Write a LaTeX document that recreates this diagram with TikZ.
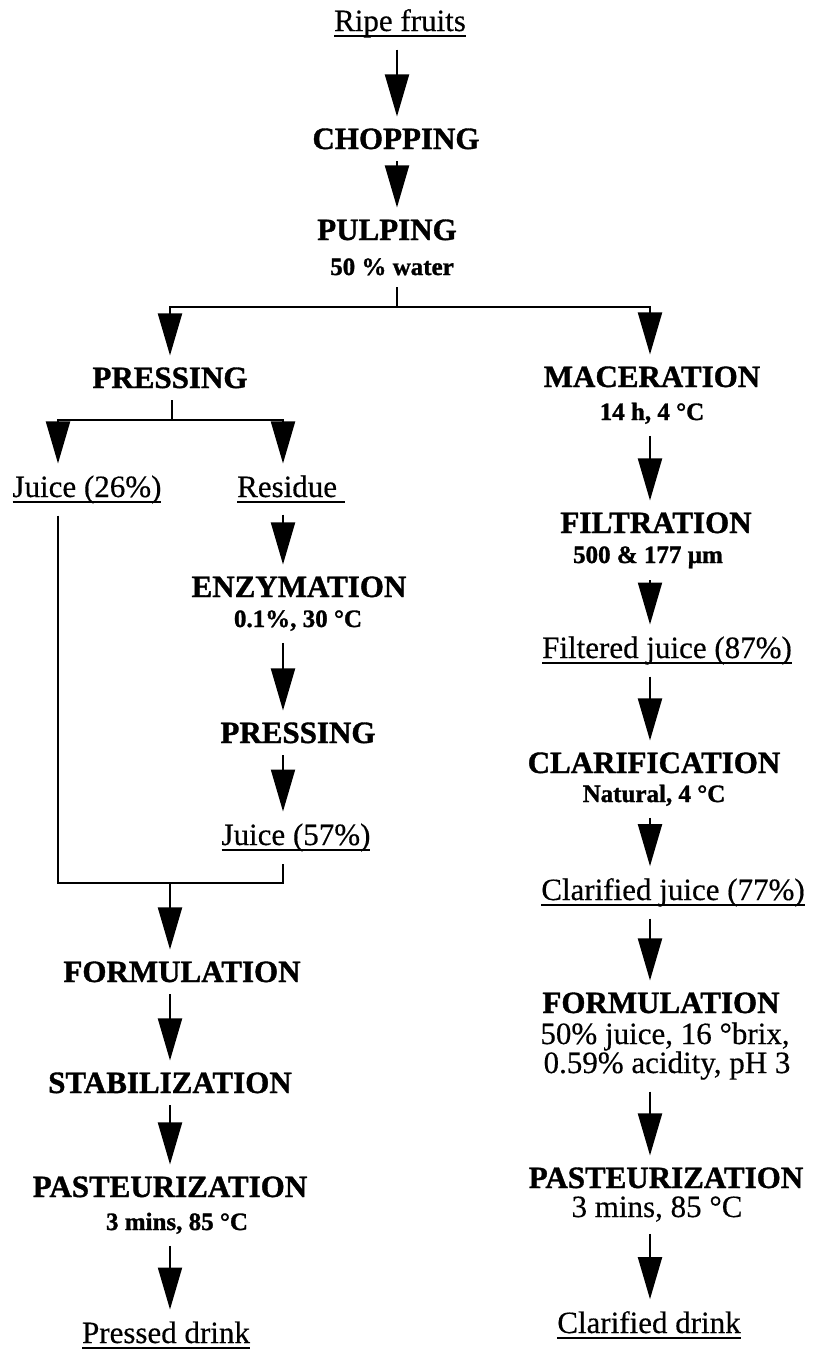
\documentclass[tikz,border=0pt]{standalone}
\usepackage{fontspec}
\setmainfont{Liberation Serif}[UprightFeatures={FakeBold=0.4}, BoldFeatures={FakeBold=1.2}]
\usetikzlibrary{arrows.meta}

% underlined product label: rule set just below the baseline
\newcommand\ulbox[1]{\setbox0\hbox{#1}\rlap{\rule[-5.5pt]{\wd0}{2pt}}\box0}

\begin{document}
\begin{tikzpicture}[x=1pt,y=-1pt,
  every node/.style={inner sep=0pt, outer xsep=0pt, outer ysep=12pt, anchor=base},
  stage/.style={font=\fontsize{31}{36}\selectfont\bfseries},
  item/.style={font=\fontsize{31}{36}\selectfont},
  detail/.style={font=\fontsize{25}{30}\selectfont\bfseries},
  flow/.style={line width=2pt, -{Triangle[length=42pt,width=24pt]}},
  link/.style={line width=2pt},
]
\useasboundingbox (0,0) rectangle (812,1353);

% column axes and branch points
\coordinate (colT) at (397,0);
\coordinate (colL) at (170,0);
\coordinate (colJ) at (58,0);
\coordinate (colM) at (283,0);
\coordinate (colR) at (650,0);
\coordinate (split1) at (397,307);
\coordinate (split2) at (172,420);
\coordinate (merge) at (170,883);

% common trunk
\node[item]   (ripe)  at (400,31)  {\ulbox{Ripe fruits}};
\node[stage]  (chop)  at (396,149) {CHOPPING};
\node[stage]  (pulp)  at (387,240) {PULPING};
\node[detail] (water) at (392,275) {50 \% water};

% pressed branch
\node[stage]  (pressA)  at (170,388)  {PRESSING};
\node[item]   (juiceA)  at (87,497)   {\ulbox{Juice (26\%)}};
\node[item]   (resid)   at (291,497)  {\ulbox{Residue\ }};
\node[stage]  (enzym)   at (299,597)  {ENZYMATION};
\node[detail] (enzymd)  at (298,627)  {0.1\%, 30 °C};
\node[stage]  (pressB)  at (298,743)  {PRESSING};
\node[item]   (juiceB)  at (296,845)  {\ulbox{Juice (57\%)}};
\node[stage]  (formA)   at (182,982)  {FORMULATION};
\node[stage]  (stab)    at (170,1093) {STABILIZATION};
\node[stage]  (pastA)   at (170,1197) {PASTEURIZATION};
\node[detail] (pastAd)  at (177,1230) {3 mins, 85 °C};
\node[item]   (pressed) at (166,1343) {\ulbox{Pressed drink}};

% clarified branch
\node[stage]  (macer)   at (652,387)  {MACERATION};
\node[detail] (macerd)  at (652,420)  {14 h, 4 °C};
\node[stage]  (filt)    at (656,533)  {FILTRATION};
\node[detail] (filtd)   at (648,563)  {500 \& 177 µm};
\node[item]   (filtj)   at (667,658)  {\ulbox{Filtered juice (87\%)}};
\node[stage]  (clar)    at (654,773)  {CLARIFICATION};
\node[detail] (clard)   at (654,802)  {Natural, 4 °C};
\node[item]   (clarj)   at (673,900)  {\ulbox{Clarified juice (77\%)}};
\node[stage]  (formB)   at (661,1013) {FORMULATION};
\node[item]   (formBa)  at (665,1044) {50\% juice, 16 °brix,};
\node[item]   (formBb)  at (667,1073) {0.59\% acidity, pH 3};
\node[stage]  (pastB)   at (666,1188) {PASTEURIZATION};
\node[item]   (pastBd)  at (657,1217) {3 mins, 85 °C};
\node[item]   (drinkB)  at (649,1333) {\ulbox{Clarified drink}};

% trunk connectors
\draw[flow] (ripe.south -| colT) -- (chop.north -| colT);
\draw[flow] (chop.south -| colT) -- (pulp.north -| colT);
\draw[link] (water.south -| colT) -- (split1);
\draw[flow] (split1) -| (pressA.north -| colL);
\draw[flow] (split1) -| (macer.north -| colR);

% pressed branch connectors
\draw[link] (pressA.south -| split2) -- (split2);
\draw[flow] (split2) -| (juiceA.north -| colJ);
\draw[flow] (split2) -| (resid.north -| colM);
\draw[flow] (resid.south -| colM) -- (enzym.north -| colM);
\draw[flow] (enzymd.south -| colM) -- (pressB.north -| colM);
\draw[flow] (pressB.south -| colM) -- (juiceB.north -| colM);
\draw[link] (juiceA.south -| colJ) -- (merge -| colJ) -- (merge -| colM) -- (juiceB.south -| colM);
\draw[flow] (merge) -- (formA.north -| merge);
\draw[flow] (formA.south -| colL) -- (stab.north -| colL);
\draw[flow] (stab.south -| colL) -- (pastA.north -| colL);
\draw[flow] (pastAd.south -| colL) -- (pressed.north -| colL);

% clarified branch connectors
\draw[flow] (macerd.south -| colR) -- (filt.north -| colR);
\draw[flow] (filtd.south -| colR) -- (filtj.north -| colR);
\draw[flow] (filtj.south -| colR) -- (clar.north -| colR);
\draw[flow] (clard.south -| colR) -- (clarj.north -| colR);
\draw[flow] (clarj.south -| colR) -- (formB.north -| colR);
\draw[flow] (formBb.south -| colR) -- (pastB.north -| colR);
\draw[flow] (pastBd.south -| colR) -- (drinkB.north -| colR);
\end{tikzpicture}
\end{document}
